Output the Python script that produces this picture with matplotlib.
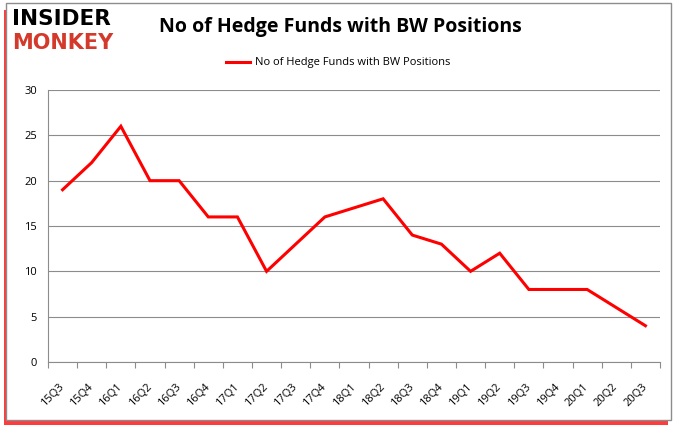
import matplotlib.pyplot as plt
from matplotlib.patches import Rectangle

quarters = ['15Q3', '15Q4', '16Q1', '16Q2', '16Q3', '16Q4', '17Q1', '17Q2', '17Q3', '17Q4',
            '18Q1', '18Q2', '18Q3', '18Q4', '19Q1', '19Q2', '19Q3', '19Q4', '20Q1', '20Q2', '20Q3']
funds = [19, 22, 26, 20, 20, 16, 16, 10, 13, 16, 17, 18, 14, 13, 10, 12, 8, 8, 8, 6, 4]
y_ticks = [0, 5, 10, 15, 20, 25, 30]

plt.rcParams['font.family'] = ['Open Sans', 'DejaVu Sans']

W, H = 680, 433
fig = plt.figure(figsize=(6.8, 4.33), dpi=100)

# outer frame with red shadow (mostly below, a thin glow on the left)
fig.patches.append(Rectangle((4 / W, 8 / H), 664 / W, 415 / H, transform=fig.transFigure,
                             facecolor='#ff1a1a', edgecolor='none', alpha=0.85, zorder=0))
fig.patches.append(Rectangle((6 / W, 13 / H), 665 / W, 417 / H, transform=fig.transFigure,
                             facecolor='white', edgecolor='#8c8c8c', linewidth=1.0, zorder=1))

ax = fig.add_axes([48 / W, 71 / H, 612 / W, 272 / H])
ax.set_zorder(2)
ax.patch.set_alpha(0)

x = list(range(len(quarters)))
ax.plot(x, funds, color='#ff0000', linewidth=2.2, solid_joinstyle='miter')

ax.set_xlim(-0.5, len(quarters) - 0.5)
ax.set_ylim(0, 30)
ax.set_yticks(y_ticks)
ax.set_yticklabels([str(v) for v in y_ticks], fontsize=8)
ax.yaxis.grid(True, color='#8c8c8c', linewidth=0.8)
ax.set_axisbelow(True)
ax.tick_params(axis='y', length=0, pad=8)

ax.set_xticks([i - 0.5 for i in range(len(quarters) + 1)], minor=False)
ax.set_xticklabels([])
ax.set_xticks(x, minor=True)
ax.set_xticklabels(quarters, minor=True, rotation=45, fontsize=8, ha='right', va='center',
                   rotation_mode='anchor')
ax.tick_params(axis='x', which='major', length=4, color='#8c8c8c')
ax.tick_params(axis='x', which='minor', length=0, pad=17)

for side in ['top', 'right']:
    ax.spines[side].set_visible(False)
ax.spines['left'].set_color('#8c8c8c')
ax.spines['bottom'].set_color('#8c8c8c')

# logo
fig.text(12 / W, 1 - 19 / H, 'INSIDER', fontsize=15.5, fontweight='bold', color='black',
         ha='left', va='center', family='DejaVu Sans')
fig.text(12 / W, 1 - 43 / H, 'MONKEY', fontsize=15, fontweight='bold', color='#d33a2c',
         ha='left', va='center', family='DejaVu Sans')

fig.text(340 / W, 1 - 27 / H, 'No of Hedge Funds with BW Positions', fontsize=14,
         fontweight='bold', ha='center', va='center')

fig.lines.append(plt.Line2D([226 / W, 250 / W], [1 - 62 / H, 1 - 62 / H],
                            transform=fig.transFigure, color='#ff0000', linewidth=2.2))
fig.text(255 / W, 1 - 62 / H, 'No of Hedge Funds with BW Positions', fontsize=8,
         ha='left', va='center')

fig.savefig('out.png', dpi=100)
